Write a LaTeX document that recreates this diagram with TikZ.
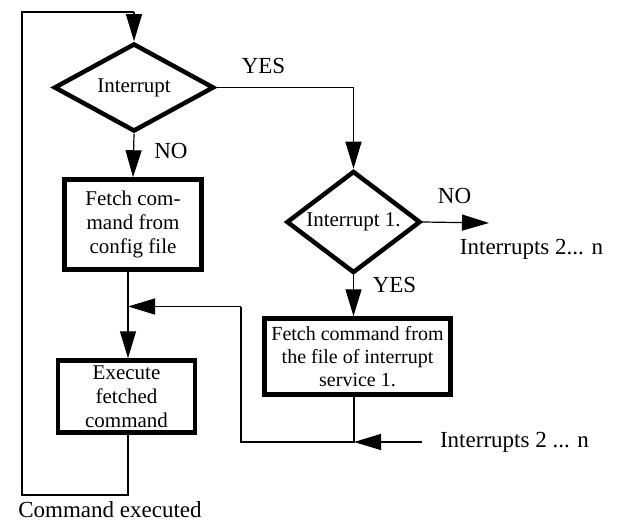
\documentclass[tikz,border=0pt]{standalone}
\usepackage{fontspec}
\setmainfont{Liberation Serif}
\usetikzlibrary{arrows.meta,shapes.geometric,calc}
\begin{document}
\begin{tikzpicture}[x=1pt,y=-1pt,
  conn/.style={line width=1.2pt},
  arr/.style={conn,-{Triangle[length=27pt,width=16pt]}},
  boxtext/.style={font=\fontsize{21}{24}\selectfont,align=center,inner sep=0pt},
  procbox/.style={draw,line width=4.5pt,rectangle,boxtext},
  decision/.style={draw,line width=4.5pt,diamond,boxtext},
  lbl/.style={font=\fontsize{23}{26}\selectfont,inner sep=0pt}
]
\useasboundingbox (0,0) rectangle (619,524);

% nodes
\node[decision,minimum width=160pt,minimum height=88pt,shape aspect=1.8] (int) at (134,87.5) {Interrupt};
\node[procbox,minimum width=137pt,minimum height=90pt] (fetch) at (133,224.5) {Fetch com-\\mand from\\config file};
\node[procbox,minimum width=137pt,minimum height=72pt] (exec) at (126.5,396.5) {Execute\\fetched\\command};
\node[decision,minimum width=134pt,minimum height=102pt,shape aspect=1.31] (int1) at (353.5,222) {Interrupt 1.};
\node[procbox,minimum width=186pt,minimum height=76pt,font=\fontsize{20}{23.3}\selectfont] (fetch2) at (357.5,356.5) {Fetch command from\\the file of interrupt\\service 1.};

% coordinates
\coordinate (m) at (128,306.5);
\coordinate (bl) at (22,495);
\coordinate (tl) at (22,12);
\coordinate (noend) at (489,223);
\coordinate (inR) at (422,442);
\coordinate (jn) at (354,442);
\coordinate (mr) at (241,442);

% labels
\node[lbl] (no1) at (171,151) {NO};
\node[lbl] (yes1) at (263.5,66) {YES};
\node[lbl] (no2) at (454.5,196) {NO};
\node[lbl] (yes2) at (394.5,285) {YES};
\node[lbl] (i2n) at (531.5,249) {Interrupts 2... n};
\node[lbl] (i2n2) at (514.5,442) {Interrupts 2 ... n};
\node[lbl] (cmdex) at (110,510) {Command executed};

% connectors
\draw[arr] (int.south) -- (fetch.north);
\draw[arr] (int.east) -- (int.east -| int1.north) -- (int1.north);
\draw[arr] (int1.south) -- (int1.south |- fetch2.north);
\draw[arr] (int1.east) -- (noend);
\draw[arr] (fetch.south -| m) -- (exec.north -| m);
\draw[conn] (jn |- fetch2.south) -- (jn) -- (mr) -- (mr |- m);
\draw[arr] (mr |- m) -- (m);
\draw[arr] (inR) -- (jn);
\draw[conn] (exec.south -| m) -- (m |- bl) -- (bl) -- (tl) -- (tl -| int.north);
\draw[arr] (tl -| int.north) -- (int.north);
\end{tikzpicture}
\end{document}
